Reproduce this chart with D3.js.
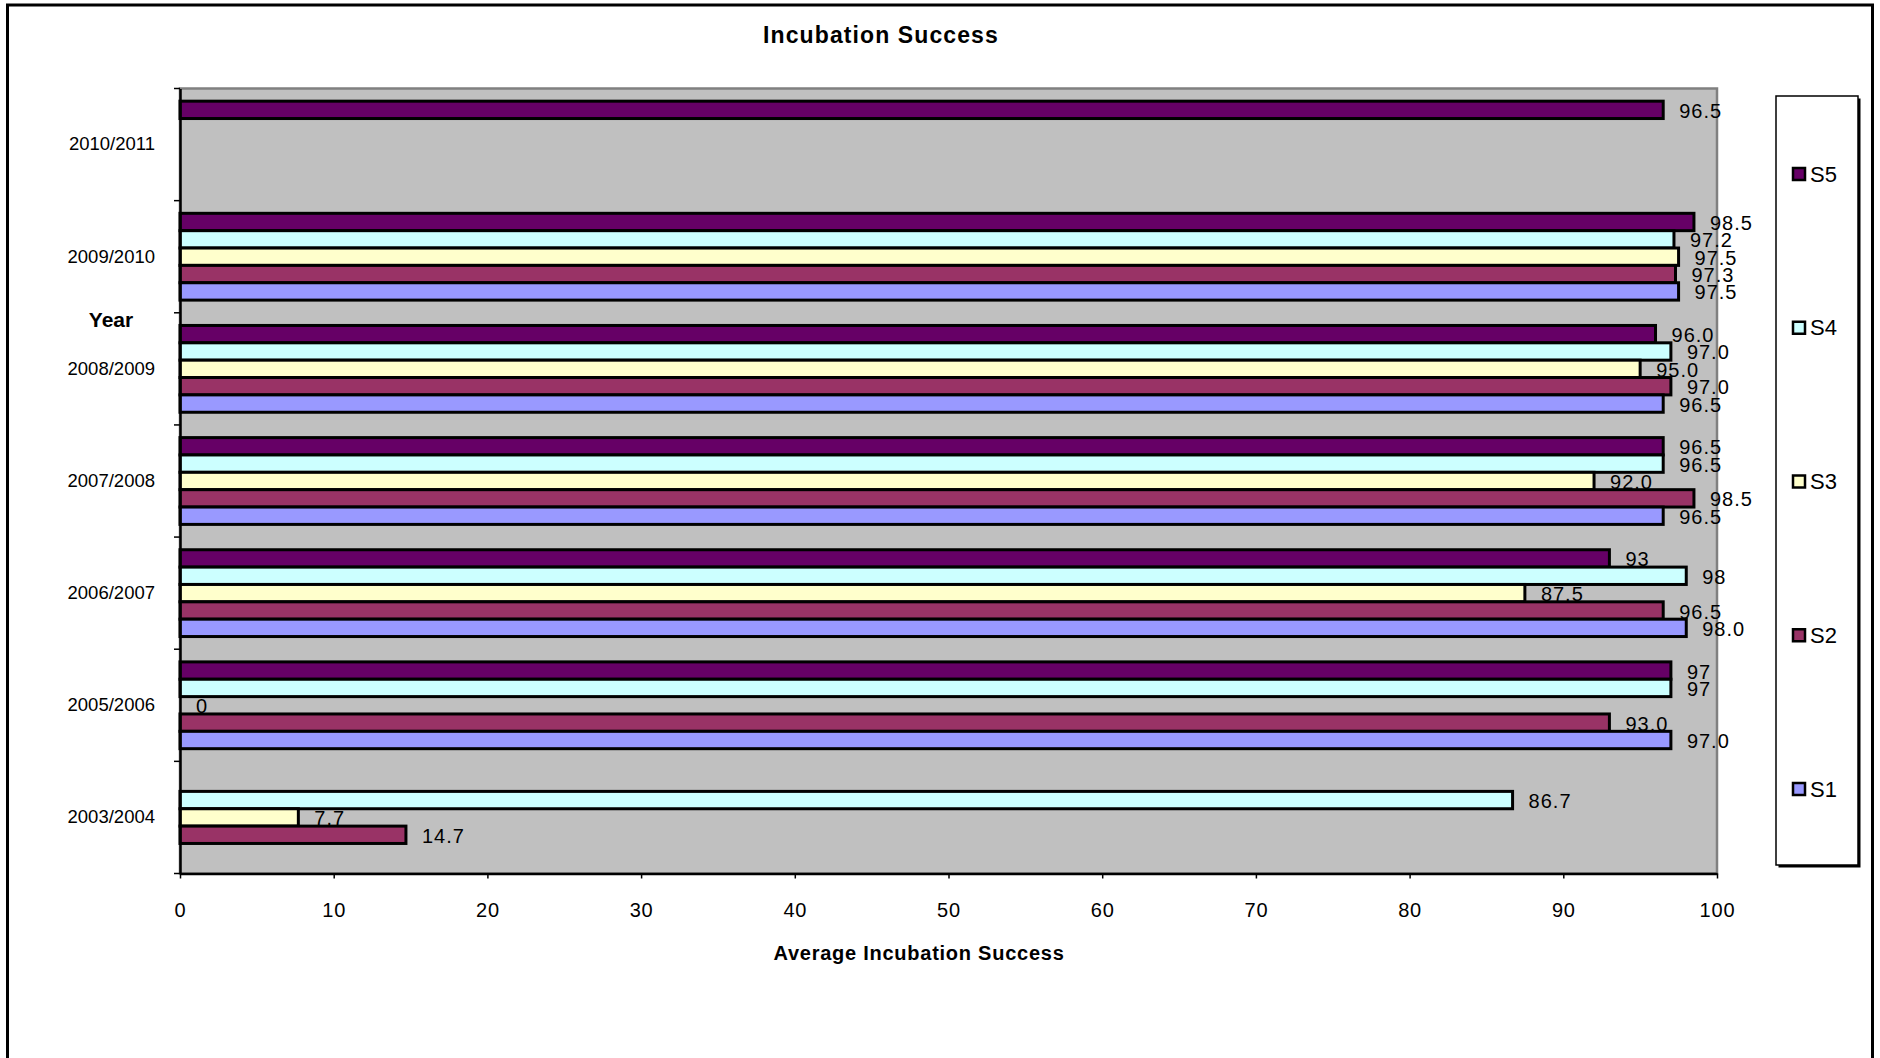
<!DOCTYPE html>
<html>
<head>
<meta charset="utf-8">
<script src="https://cdn.jsdelivr.net/npm/d3@7"></script>
<style>
  html, body { margin: 0; padding: 0; background: #ffffff; }
  svg { display: block; font-family: "Liberation Sans", Arial, sans-serif; }
</style>
</head>
<body>
<svg id="chart" width="1880" height="1058"></svg>
<script>
// Seasons, listed top to bottom as they appear on the vertical axis
const categories = ["2010/2011", "2009/2010", "2008/2009", "2007/2008", "2006/2007", "2005/2006", "2003/2004"];

// Sites, listed in drawing order within each season (top bar first)
const seriesNames = ["S5", "S4", "S3", "S2", "S1"];

// Average incubation success (%) per season, one array per site (null = no bar)
const s5Values = [96.5, 98.5, 96.0, 96.5, 93, 97, null];
const s4Values = [null, 97.2, 97.0, 96.5, 98, 97, 86.7];
const s3Values = [null, 97.5, 95.0, 92.0, 87.5, 0, 7.7];
const s2Values = [null, 97.3, 97.0, 98.5, 96.5, 93.0, 14.7];
const s1Values = [null, 97.5, 96.5, 96.5, 98.0, 97.0, null];

// Value labels exactly as printed beside each bar
const s5Labels = ["96.5", "98.5", "96.0", "96.5", "93", "97", null];
const s4Labels = [null, "97.2", "97.0", "96.5", "98", "97", "86.7"];
const s3Labels = [null, "97.5", "95.0", "92.0", "87.5", "0", "7.7"];
const s2Labels = [null, "97.3", "97.0", "98.5", "96.5", "93.0", "14.7"];
const s1Labels = [null, "97.5", "96.5", "96.5", "98.0", "97.0", null];

// Horizontal axis ticks
const xTicks = [0, 10, 20, 30, 40, 50, 60, 70, 80, 90, 100];

// Legend entries, top to bottom
const legendOrder = ["S5", "S4", "S3", "S2", "S1"];

const seriesColors = {
  S5: "#660066",
  S4: "#CCFFFF",
  S3: "#FFFFCC",
  S2: "#993366",
  S1: "#9999FF"
};

const valuesBySeries = { S5: s5Values, S4: s4Values, S3: s3Values, S2: s2Values, S1: s1Values };
const labelsBySeries = { S5: s5Labels, S4: s4Labels, S3: s3Labels, S2: s2Labels, S1: s1Labels };

// Flat table of bars built from the arrays above
const bars = [];
seriesNames.forEach(s => {
  categories.forEach((c, i) => {
    const v = valuesBySeries[s][i];
    if (v !== null) bars.push({ series: s, category: c, value: v, label: labelsBySeries[s][i] });
  });
});

const svg = d3.select("#chart");

// Plot frame
const plot = { left: 180, right: 1717, top: 88.5, bottom: 873.5 };

const x = d3.scaleLinear().domain([0, 100]).range([plot.left, plot.right]);
const y = d3.scaleBand().domain(categories).range([plot.top, plot.bottom]).paddingInner(0).paddingOuter(0);
const inner = d3.scaleBand().domain(seriesNames).range([0, y.bandwidth()]).paddingInner(0).paddingOuter(0.73);

// Outer chart border
svg.append("rect")
  .attr("x", 7.5).attr("y", 5)
  .attr("width", 1865).attr("height", 1100)
  .attr("fill", "#ffffff")
  .attr("stroke", "#000000")
  .attr("stroke-width", 3);

// Chart title
svg.append("text")
  .attr("x", 881).attr("y", 35)
  .attr("text-anchor", "middle")
  .attr("dominant-baseline", "central")
  .attr("font-size", 23)
  .attr("font-weight", "bold")
  .attr("letter-spacing", 1.1)
  .text("Incubation Success");

// Plot area background
svg.append("rect")
  .attr("x", plot.left).attr("y", plot.top)
  .attr("width", plot.right - plot.left).attr("height", plot.bottom - plot.top)
  .attr("fill", "#C0C0C0")
  .attr("stroke", "#808080")
  .attr("stroke-width", 2.5);

// Bars
svg.append("g").selectAll("rect")
  .data(bars.filter(d => d.value > 0))
  .join("rect")
  .attr("x", x(0))
  .attr("y", d => y(d.category) + inner(d.series))
  .attr("width", d => x(d.value) - x(0))
  .attr("height", inner.bandwidth())
  .attr("fill", d => seriesColors[d.series])
  .attr("stroke", "#000000")
  .attr("stroke-width", 3);

// Value labels
svg.append("g").selectAll("text")
  .data(bars)
  .join("text")
  .attr("x", d => x(d.value) + 16)
  .attr("y", d => y(d.category) + inner(d.series) + inner.bandwidth() / 2 + 1)
  .attr("dominant-baseline", "central")
  .attr("font-size", 20)
  .attr("letter-spacing", 1)
  .attr("fill", "#000000")
  .text(d => d.label);

// Horizontal axis
const xAxis = svg.append("g")
  .attr("transform", `translate(0,${plot.bottom})`)
  .call(d3.axisBottom(x).tickValues(xTicks).tickSize(5).tickSizeOuter(0).tickPadding(24).tickFormat(d3.format("d")));
xAxis.select(".domain").attr("stroke", "#000000").attr("stroke-width", 2.5);
xAxis.selectAll(".tick line").attr("stroke", "#000000").attr("stroke-width", 1.5);
xAxis.selectAll(".tick text")
  .attr("font-size", 20)
  .attr("letter-spacing", 0.8)
  .attr("fill", "#000000")
  .attr("font-family", "Liberation Sans, Arial, sans-serif");

// Vertical axis: labels centred on each season, tick marks on the season boundaries
const yAxis = svg.append("g")
  .attr("transform", `translate(${plot.left},0)`)
  .call(d3.axisLeft(y).tickSize(0).tickPadding(25));
yAxis.select(".domain").attr("stroke", "#000000").attr("stroke-width", 2.5);
yAxis.selectAll(".tick text")
  .attr("font-size", 18.5)
  .attr("fill", "#000000")
  .attr("font-family", "Liberation Sans, Arial, sans-serif");

const boundaries = categories.map(c => y(c)).concat([y(categories[categories.length - 1]) + y.bandwidth()]);
svg.append("g").selectAll("line")
  .data(boundaries)
  .join("line")
  .attr("x1", plot.left - 6).attr("x2", plot.left)
  .attr("y1", d => d).attr("y2", d => d)
  .attr("stroke", "#000000")
  .attr("stroke-width", 1.5);

// Axis titles
svg.append("text")
  .attr("x", 111).attr("y", 319)
  .attr("text-anchor", "middle")
  .attr("dominant-baseline", "central")
  .attr("font-size", 21)
  .attr("font-weight", "bold")
  .text("Year");

svg.append("text")
  .attr("x", 919).attr("y", 953)
  .attr("text-anchor", "middle")
  .attr("dominant-baseline", "central")
  .attr("font-size", 20)
  .attr("font-weight", "bold")
  .attr("letter-spacing", 0.75)
  .text("Average Incubation Success");

// Legend
const legend = { x: 1776, y: 96, w: 82, h: 769 };
svg.append("rect")
  .attr("x", legend.x + 2.5).attr("y", legend.y + 2.5)
  .attr("width", legend.w).attr("height", legend.h)
  .attr("fill", "#000000");
svg.append("rect")
  .attr("x", legend.x).attr("y", legend.y)
  .attr("width", legend.w).attr("height", legend.h)
  .attr("fill", "#ffffff")
  .attr("stroke", "#000000")
  .attr("stroke-width", 1.5);

const legendY = d3.scalePoint().domain(legendOrder).range([174, 789]);
const legendItems = svg.append("g").selectAll("g")
  .data(legendOrder)
  .join("g")
  .attr("transform", d => `translate(0,${legendY(d)})`);
legendItems.append("rect")
  .attr("x", 1793).attr("y", -6)
  .attr("width", 12).attr("height", 12)
  .attr("fill", d => seriesColors[d])
  .attr("stroke", "#000000")
  .attr("stroke-width", 2.5);
legendItems.append("text")
  .attr("x", 1810).attr("y", 0)
  .attr("dominant-baseline", "central")
  .attr("font-size", 22)
  .text(d => d);
</script>
</body>
</html>
